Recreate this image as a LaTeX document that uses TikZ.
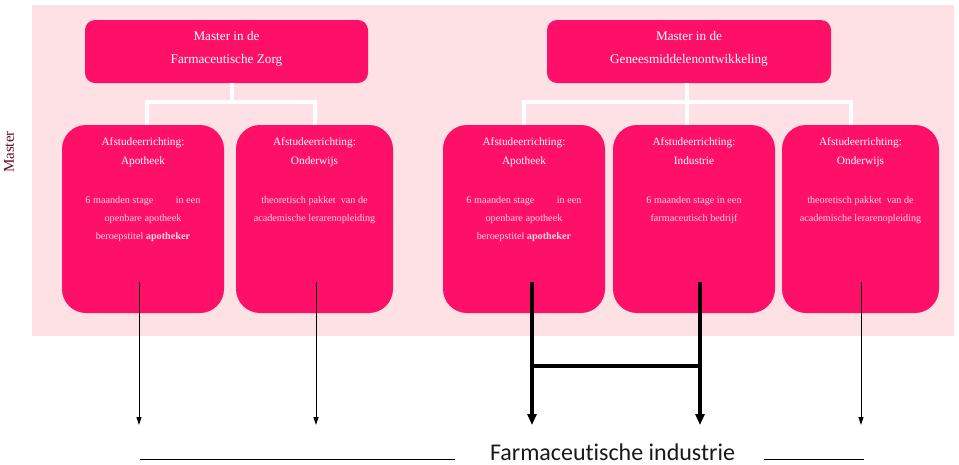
\documentclass[tikz,border=0pt]{standalone}
\usepackage{fontspec}
\setmainfont{Liberation Serif}
\newfontfamily\sansf[Ligatures={NoCommon}]{Carlito}
\usetikzlibrary{arrows.meta}
\definecolor{boxpink}{RGB}{255,16,104}
\definecolor{bgpink}{RGB}{253,225,228}
\definecolor{txtlight}{RGB}{252,214,226}
\definecolor{labmaroon}{RGB}{95,14,40}
\tikzset{
  topbox/.style={fill=boxpink, draw=none, rounded corners=10pt, inner sep=0pt},
  subbox/.style={fill=boxpink, draw=none, rounded corners=24pt, inner sep=0pt, minimum height=188pt},
  toptext/.style={text=white, align=center, inner sep=0pt, anchor=north, font=\fontsize{13.2}{23}\selectfont},
  headtext/.style={text=white, align=center, inner sep=0pt, anchor=north, font=\fontsize{11.3}{19}\selectfont},
  bodytext/.style={text=txtlight, align=center, inner sep=0pt, anchor=north, font=\fontsize{10.2}{18}\selectfont},
  wline/.style={draw=white, line width=4pt},
  thinarrow/.style={draw=black, line width=1pt, -{Triangle[length=8pt,width=5pt]}},
  thickarrow/.style={draw=black, line width=3.5pt, -{Triangle[length=11pt,width=9pt]}},
  thickline/.style={draw=black, line width=3.5pt},
  baseline/.style={draw=black, line width=0.9pt}
}
\begin{document}
\begin{tikzpicture}[x=1pt,y=-1pt]
\useasboundingbox (0,0) rectangle (959,464);
% background
\fill[bgpink] (32,5) rectangle (954,336);
\node[rotate=90, text=labmaroon, font=\fontsize{15}{16}\selectfont, inner sep=0pt] (lab) at (9,152) {Master};

% top boxes
\node[topbox, minimum width=283pt, minimum height=63pt] (t1) at (226.5,51.5) {};
\node[topbox, minimum width=284pt, minimum height=63pt] (t2) at (689,51.5) {};
\node[toptext] (t1txt) at (226.5,31) {Master in de\\Farmaceutische Zorg};
\node[toptext] (t2txt) at (689,31) {Master in de\\Geneesmiddelenontwikkeling};

% sub boxes
\node[subbox, minimum width=162pt] (b1) at (143,219) {};
\node[subbox, minimum width=157pt] (b2) at (314.5,219) {};
\node[subbox, minimum width=162pt] (b3) at (524,219) {};
\node[subbox, minimum width=162pt] (b4) at (694,219) {};
\node[subbox, minimum width=157pt] (b5) at (860.5,219) {};

% connectors (white)
\coordinate (j1) at (232,102);
\coordinate (j1a) at (147,102);
\coordinate (j1b) at (315,102);
\draw[wline] (t1.south -| j1) -- (j1);
\draw[wline, line cap=rect] (j1a) -- (j1b);
\draw[wline] (j1a) -- (b1.north -| j1a);
\draw[wline] (j1b) -- (b2.north -| j1b);
\coordinate (j2) at (687,102);
\coordinate (j2a) at (524,102);
\coordinate (j2b) at (851,102);
\draw[wline] (t2.south -| j2) -- (j2);
\draw[wline, line cap=rect] (j2a) -- (j2b);
\draw[wline] (j2a) -- (b3.north -| j2a);
\draw[wline] (j2) -- (b4.north -| j2);
\draw[wline] (j2b) -- (b5.north -| j2b);

% headers
\node[headtext] (h1) at (143,137) {Afstudeerrichting:\\Apotheek};
\node[headtext] (h2) at (314.5,137) {Afstudeerrichting:\\Onderwijs};
\node[headtext] (h3) at (524,137) {Afstudeerrichting:\\Apotheek};
\node[headtext] (h4) at (694,137) {Afstudeerrichting:\\Industrie};
\node[headtext] (h5) at (860.5,137) {Afstudeerrichting:\\Onderwijs};

% bodies
\node[bodytext] (d1) at (143,196) {6 maanden stage\hspace{2.2em}in een\\openbare apotheek\\beroepstitel \textbf{apotheker}};
\node[bodytext] (d2) at (314.5,196) {theoretisch pakket\ \ van de\\academische lerarenopleiding};
\node[bodytext] (d3) at (524,196) {6 maanden stage\hspace{2.2em}in een\\openbare apotheek\\beroepstitel \textbf{apotheker}};
\node[bodytext] (d4) at (694,196) {6 maanden stage in een\\farmaceutisch bedrijf};
\node[bodytext] (d5) at (860.5,196) {theoretisch pakket\ \ van de\\academische lerarenopleiding};

% arrows
\coordinate (s1) at (139,282); \coordinate (e1) at (139,425);
\coordinate (s2) at (316,282); \coordinate (e2) at (316,425);
\coordinate (s3) at (532,282); \coordinate (e3) at (532,425);
\coordinate (s4) at (700,282); \coordinate (e4) at (700,425);
\coordinate (s5) at (861,282); \coordinate (e5) at (861,425);
\draw[thinarrow] (s1) -- (e1);
\draw[thinarrow] (s2) -- (e2);
\draw[thickarrow] (s3) -- (e3);
\draw[thickarrow] (s4) -- (e4);
\draw[thinarrow] (s5) -- (e5);
\coordinate (m3) at (532,366); \coordinate (m4) at (700,366);
\draw[thickline] (m3) -- (m4);

% bottom label and lines
\node[font=\sansf\fontsize{24}{26}\selectfont, text=black!90, inner sep=0pt, anchor=base] (fi) at (612.5,460.5) {Farmaceutische industrie};
\coordinate (l1a) at (140,459); \coordinate (l1b) at (455,459);
\coordinate (l2a) at (764,459); \coordinate (l2b) at (864,459);
\draw[baseline] (l1a) -- (l1b);
\draw[baseline] (l2a) -- (l2b);
\end{tikzpicture}
\end{document}
